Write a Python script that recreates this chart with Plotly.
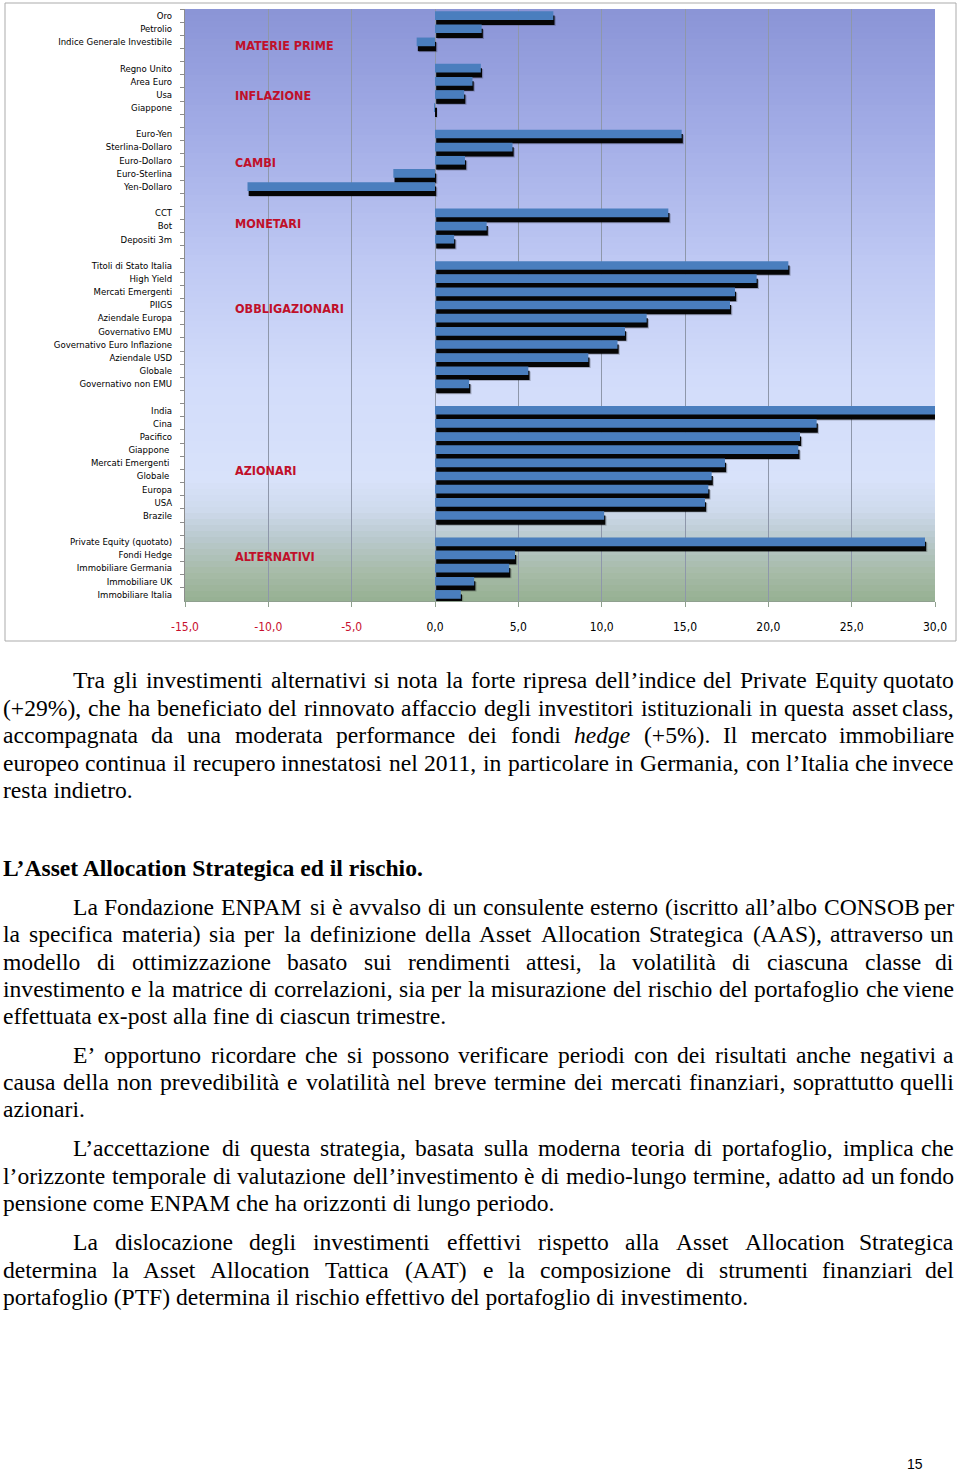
import re
import plotly.graph_objects as go

# ---------------- data ----------------
categories = [
    "Oro", "Petrolio", "Indice Generale Investibile", " ",
    "Regno Unito", "Area Euro", "Usa", "Giappone", "  ",
    "Euro-Yen", "Sterlina-Dollaro", "Euro-Dollaro", "Euro-Sterlina", "Yen-Dollaro", "   ",
    "CCT", "Bot", "Depositi 3m", "    ",
    "Titoli di Stato Italia", "High Yield", "Mercati Emergenti", "PIIGS", "Aziendale Europa",
    "Governativo EMU", "Governativo Euro Inflazione", "Aziendale USD", "Globale", "Governativo non EMU", "     ",
    "India", "Cina", "Pacifico", "Giappone ", "Mercati Emergenti ", "Globale ", "Europa", "USA", "Brazile", "      ",
    "Private Equity (quotato)", "Fondi Hedge", "Immobiliare Germania", "Immobiliare UK", "Immobiliare Italia",
]
returns = [
    7.1, 2.8, -1.1, None,
    2.75, 2.25, 1.75, -0.05, None,
    14.8, 4.65, 1.8, -2.5, -11.25, None,
    14.0, 3.1, 1.15, None,
    21.2, 19.3, 18.0, 17.7, 12.7, 11.4, 10.95, 9.2, 5.6, 2.05, None,
    30.3, 22.9, 21.9, 21.8, 17.4, 16.6, 16.4, 16.2, 10.15, None,
    29.4, 4.8, 4.45, 2.35, 1.55,
]
x_tick_values = [-15, -10, -5, 0, 5, 10, 15, 20, 25, 30]
x_tick_labels = ["-15,0", "-10,0", "-5,0", "0,0", "5,0", "10,0", "15,0", "20,0", "25,0", "30,0"]
group_labels = ["MATERIE PRIME", "INFLAZIONE", "CAMBI", "MONETARI", "OBBLIGAZIONARI", "AZIONARI", "ALTERNATIVI"]
group_rows = [2.31, 6.04, 11.2, 15.84, 22.3, 34.6, 41.15]

paragraph_1 = [
    "Tra gli investimenti alternativi si nota la forte ripresa dell’indice del Private Equity quotato",
    "(+29%), che ha beneficiato del rinnovato affaccio degli investitori istituzionali in questa asset class,",
    "accompagnata da una moderata performance dei fondi <i>hedge</i> (+5%). Il mercato immobiliare",
    "europeo continua il recupero innestatosi nel 2011, in particolare in Germania, con l’Italia che invece",
    "resta indietro.",
]
heading = "L’Asset Allocation Strategica ed il rischio."
paragraph_2 = [
    "La Fondazione ENPAM si è avvalso di un consulente esterno (iscritto all’albo CONSOB per",
    "la specifica materia) sia per la definizione della Asset Allocation Strategica (AAS), attraverso un",
    "modello di ottimizzazione basato sui rendimenti attesi, la volatilità di ciascuna classe di",
    "investimento e la matrice di correlazioni, sia per la misurazione del rischio del portafoglio che viene",
    "effettuata ex-post alla fine di ciascun trimestre.",
]
paragraph_3 = [
    "E’ opportuno ricordare che si possono verificare periodi con dei risultati anche negativi a",
    "causa della non prevedibilità e volatilità nel breve termine dei mercati finanziari, soprattutto quelli",
    "azionari.",
]
paragraph_4 = [
    "L’accettazione di questa strategia, basata sulla moderna teoria di portafoglio, implica che",
    "l’orizzonte temporale di valutazione dell’investimento è di medio-lungo termine, adatto ad un fondo",
    "pensione come ENPAM che ha orizzonti di lungo periodo.",
]
paragraph_5 = [
    "La dislocazione degli investimenti effettivi rispetto alla Asset Allocation Strategica",
    "determina la Asset Allocation Tattica (AAT) e la composizione di strumenti finanziari del",
    "portafoglio (PTF) determina il rischio effettivo del portafoglio di investimento.",
]
page_number = "15"

# ---------------- layout helpers ----------------
W, H = 960, 1472
ML, MR, MT, MB = 185, 25, 9, 871
PW, PH = W - ML - MR, H - MT - MB


def px(x):
    return (x - ML) / PW


def py(y):
    return (H - MB - y) / PH


NARROW = "Liberation Sans Narrow, DejaVu Sans Condensed, Arial Narrow, sans-serif"
SERIF = "Liberation Serif, Times New Roman, serif"
BODY_SIZE = 23.6

# Times metrics (per 1000 em) for word placement in justified lines
TW = dict(zip("abcdefghijklmnopqrstuvwxyz",
              [444, 500, 444, 500, 444, 333, 500, 500, 278, 278, 500, 278, 778, 500, 500, 500, 500, 333, 389,
               278, 500, 500, 722, 500, 500, 444]))
TW.update(dict(zip("ABCDEFGHIJKLMNOPQRSTUVWXYZ",
                   [722, 667, 667, 722, 611, 556, 722, 722, 333, 389, 722, 611, 889, 722, 722, 556, 722, 667,
                    556, 611, 722, 722, 944, 722, 722, 611])))
TW.update({" ": 250, "’": 333, "'": 180, "(": 333, ")": 333, "+": 564, "%": 833, ",": 250, ".": 250,
           "-": 333, ":": 278, ";": 278, "à": 444, "è": 444, "é": 444, "ì": 278, "ò": 500, "ù": 500})
for d in "0123456789":
    TW[d] = 500


def text_width(s):
    s = re.sub(r"<[^>]+>", "", s)
    return sum(TW.get(c, 500) for c in s) / 1000.0 * BODY_SIZE


annotations = []


def body_ann(text, x, y, anchor="left", bold=False):
    annotations.append(dict(
        text=text, x=px(x), y=py(y), xref="paper", yref="paper", xanchor=anchor, yanchor="middle",
        showarrow=False, borderpad=0,
        font=dict(family=SERIF, size=BODY_SIZE, color="black", weight="bold" if bold else "normal"),
    ))


def place_line(text, y, x0, x1, justify):
    if not justify:
        body_ann(text, x0, y)
        return
    words = text.split(" ")
    widths = [text_width(w) for w in words]
    gap = (x1 - x0 - sum(widths)) / (len(words) - 1)
    x = x0
    for k, (w, wd) in enumerate(zip(words, widths)):
        if k == len(words) - 1:
            body_ann(w, x1, y, anchor="right")
        else:
            body_ann(w, x, y)
        x += wd + gap


LEFT, RIGHT, INDENT = 2, 955, 72


def place_paragraph(lines, ys):
    for k, (line, y) in enumerate(zip(lines, ys)):
        x0 = INDENT if k == 0 else LEFT
        place_line(line, y, x0, RIGHT, justify=(k < len(lines) - 1))


place_paragraph(paragraph_1, [680, 708, 735, 763, 790])
body_ann(heading, LEFT, 868, bold=True)
place_paragraph(paragraph_2, [907, 934, 962, 989, 1016])
place_paragraph(paragraph_3, [1055, 1082, 1109])
place_paragraph(paragraph_4, [1148, 1176, 1203])
place_paragraph(paragraph_5, [1242, 1270, 1297])

annotations.append(dict(text=page_number, x=px(915), y=py(1464), xref="paper", yref="paper",
                        xanchor="center", yanchor="middle", showarrow=False,
                        font=dict(family="Liberation Sans, Arial, sans-serif", size=14, color="black")))

for lab, row in zip(group_labels, group_rows):
    annotations.append(dict(text=lab, x=-12.05, y=row, xref="x", yref="y", xanchor="left", yanchor="middle",
                            showarrow=False, borderpad=0,
                            font=dict(family=NARROW, size=12.5, color="#C0102A", weight="bold")))

# ---------------- background gradient (plot area) ----------------
stops = [(9, (138, 148, 214)), (130, (162, 172, 230)), (260, (190, 200, 243)), (380, (210, 220, 250)),
         (480, (216, 226, 250)), (510, (206, 218, 236)), (540, (184, 200, 204)), (570, (168, 188, 170)),
         (601, (150, 176, 146))]


def color_at(y):
    for (ya, ca), (yb, cb) in zip(stops[:-1], stops[1:]):
        if ya <= y <= yb:
            t = (y - ya) / (yb - ya)
            return tuple(round(a + (b - a) * t) for a, b in zip(ca, cb))
    return stops[-1][1]


shapes = []
step = 6
y = MT
while y < H - MB:
    y2 = min(y + step, H - MB)
    c = color_at((y + y2) / 2)
    shapes.append(dict(type="rect", xref="paper", yref="paper", x0=0, x1=1, y0=py(y2 + 0.6), y1=py(y),
                       fillcolor="rgb(%d,%d,%d)" % c, line=dict(width=0), layer="below"))
    y = y2

shapes.append(dict(type="rect", xref="paper", yref="paper", x0=px(5), x1=px(956), y0=py(641), y1=py(3),
                   line=dict(color="#ABABAB", width=1), fillcolor="rgba(0,0,0,0)", layer="below"))

# ---------------- traces ----------------
fig = go.Figure()
fig.add_trace(go.Bar(y=categories, x=returns, orientation="h", base=0.14, offset=0.06, width=0.72,
                     marker=dict(color="rgba(0,0,0,0.22)", line=dict(width=0)), hoverinfo="skip"))
fig.add_trace(go.Bar(y=categories, x=returns, orientation="h", base=0.07, offset=0.0, width=0.71,
                     marker=dict(color="#050505", line=dict(width=0)), hoverinfo="skip"))
fig.add_trace(go.Bar(y=categories, x=returns, orientation="h", offset=-0.33, width=0.66,
                     marker=dict(color="#4A7EBE", line=dict(width=0))))

tick_text = []
for v, t in zip(x_tick_values, x_tick_labels):
    tick_text.append('<span style="color:#C8102E">%s</span>' % t if v < 0 else t)

fig.update_layout(
    width=W, height=H, barmode="overlay", showlegend=False,
    margin=dict(l=ML, r=MR, t=MT, b=MB, pad=0),
    paper_bgcolor="white", plot_bgcolor="rgb(190,200,243)",
    xaxis=dict(range=[-15, 30], tickmode="array", tickvals=x_tick_values, ticktext=tick_text,
               showgrid=True, gridcolor="#8E97AA", gridwidth=1, zeroline=False,
               showline=True, linecolor="#8FA08F", ticks="outside", ticklen=5, tickcolor="#8FA08F",
               tickfont=dict(family=NARROW, size=12, color="black"), ticklabelstandoff=10, fixedrange=True),
    yaxis=dict(type="category", categoryorder="array", categoryarray=categories,
               range=[len(categories) - 0.5, -0.5], showgrid=False, zeroline=False,
               showline=True, linecolor="#8C8C8C", ticks="outside", tickson="boundaries", ticklen=4,
               tickcolor="#8C8C8C", tickfont=dict(family=NARROW, size=9.5, color="black"),
               ticklabelstandoff=10, fixedrange=True),
    annotations=annotations, shapes=shapes,
)

fig.write_html("out.html", config={"displayModeBar": False},
               post_script="document.body.style.margin='0';document.body.style.overflow='hidden';")
